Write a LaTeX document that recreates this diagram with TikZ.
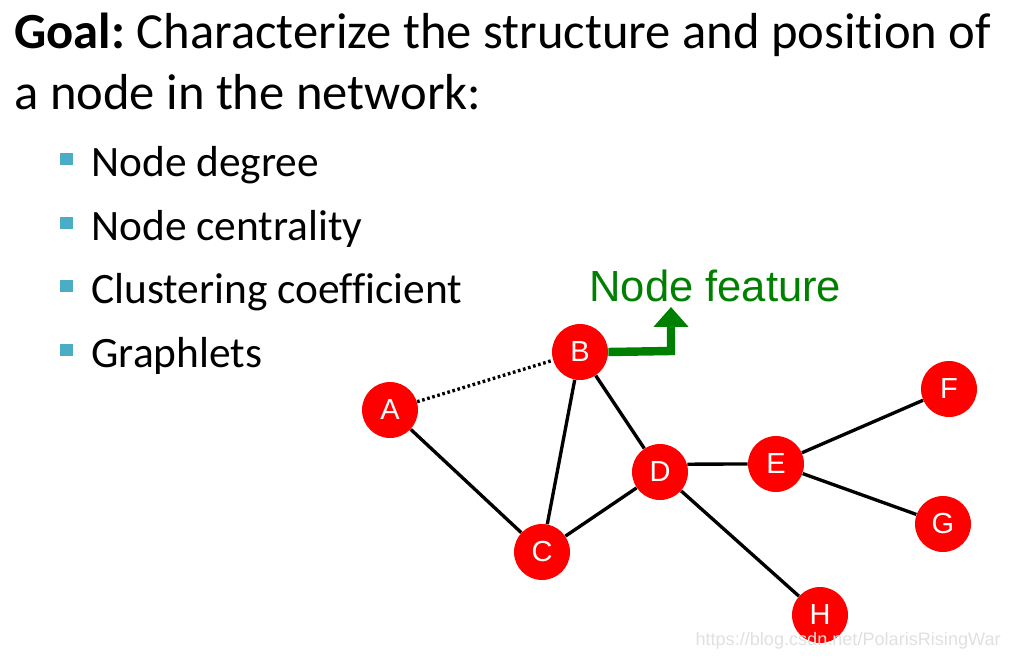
\documentclass[tikz,border=0pt]{standalone}
\usepackage{fontspec}
\setmainfont{Carlito}[Ligatures=NoCommon]
\newfontfamily\arialfont{Liberation Sans}
\usetikzlibrary{arrows.meta}
\definecolor{bulletblue}{RGB}{75,172,198}
\definecolor{featgreen}{RGB}{0,128,0}
\definecolor{nodered}{RGB}{255,0,0}

\begin{document}
\begin{tikzpicture}[x=0.02cm,y=-0.02cm,>=Stealth,
    vertex/.style={circle,fill=nodered,minimum size=1.12cm,inner sep=0pt,
      text=white,font=\arialfont\fontsize{16.5}{17}\selectfont},
    edge/.style={line width=1.9pt,black},
    item/.style={anchor=base west,inner sep=0pt,font=\fontsize{24.7}{28}\selectfont},
    bull/.style={fill=bulletblue,minimum size=0.25cm,inner sep=0pt}]
  \useasboundingbox (0,0) rectangle (1011,659);
  % heading
  \node[anchor=base west,inner sep=0pt,font=\fontsize{28.8}{32}\selectfont] (goal) at (14,49)
    {\textbf{Goal:}\hspace{-2pt} Characterize the structure and position of};
  \node[anchor=base west,inner sep=0pt,font=\fontsize{28.8}{32}\selectfont] (goaltwo) at (14,109)
    {a node in the network:};
  % bullet list
  \foreach \y/\t [count=\i] in {176/Node degree,240/Node centrality,
      303/Clustering coefficient,367/Graphlets}{
    \node[bull] (b\i) at (66.5,\y-17) {};
    \node[item] (t\i) at (91,\y) {\t};
  }
  % graph
  \node[vertex] (A) at (390,410) {A};
  \node[vertex] (B) at (580,352) {B};
  \node[vertex] (C) at (542,552) {C};
  \node[vertex] (D) at (660,472) {D};
  \node[vertex] (E) at (776,464) {E};
  \node[vertex] (F) at (949,389) {F};
  \node[vertex] (G) at (943,524) {G};
  \node[vertex] (H) at (820,615) {H};
  \draw[edge,dash pattern=on 1.5pt off 1.5pt] (A) -- (B);
  \foreach \u/\v in {A/C,B/C,B/D,C/D,E/F,E/G,D/H}
    \draw[edge] (\u) -- (\v);
  \draw[edge] (D.16.6) -- (E.west); % level with E
  % feature arrow
  \node[anchor=base west,inner sep=0pt,text=featgreen,
        font=\arialfont\fontsize{24.8}{26}\selectfont] (feat) at (589,301) {Node feature};
  \coordinate (tip) at (671,307);
  \draw[featgreen,line width=4.8pt,-{Triangle[width=0.68cm,length=0.4cm]}]
    (B.east) -- (671,351) -- (tip);
  % watermark
  \node[anchor=base east,inner sep=0pt,text=black!12,
        font=\arialfont\fontsize{10.3}{12}\selectfont] (wm) at (1001,645)
    {https://blog.csdn.net/PolarisRisingWar};
\end{tikzpicture}
\end{document}
